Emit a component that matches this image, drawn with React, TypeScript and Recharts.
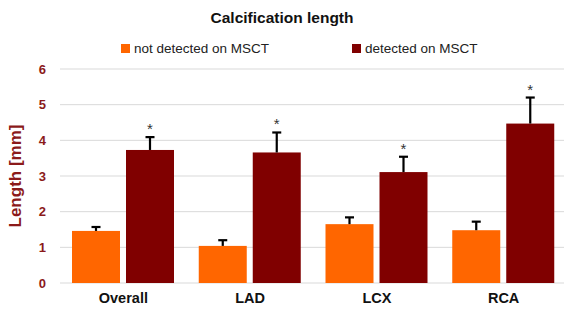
import { BarChart, Bar, XAxis, YAxis, CartesianGrid, Legend } from 'recharts';

const categories = ['Overall', 'LAD', 'LCX', 'RCA'];
const notDetected = [1.46, 1.04, 1.65, 1.48];
const notDetectedErr = [0.11, 0.16, 0.19, 0.24];
const detected = [3.73, 3.66, 3.11, 4.47];
const detectedErr = [0.36, 0.56, 0.43, 0.73];
const yTicks = [0, 1, 2, 3, 4, 5, 6];

const FONT = '"Liberation Sans", Arial, sans-serif';
const ORANGE = '#FF6600';
const DARK = '#800000';
const AXIS_RED = '#8B1A1A';

const data = categories.map((name, i) => ({
  name,
  notDetected: notDetected[i],
  notDetectedErr: notDetectedErr[i],
  detected: detected[i],
  detectedErr: detectedErr[i],
}));

// bar + one-sided (plus) error bar, optional significance star
function makeShape(valueKey: string, errKey: string, star: boolean) {
  return (props: any) => {
    const { x, y, width, height, fill, payload } = props;
    const v = payload[valueKey];
    const pxPerUnit = v ? height / v : 0;
    const top = y - payload[errKey] * pxPerUnit;
    const cx = x + width / 2;
    return (
      <g>
        <rect x={x} y={y} width={width} height={height} fill={fill} />
        <line x1={cx} y1={y} x2={cx} y2={top} stroke="#000" strokeWidth={2.2} />
        <line x1={cx - 4.5} y1={top} x2={cx + 4.5} y2={top} stroke="#000" strokeWidth={2.2} />
        {star && (
          <text x={cx} y={top - 3} textAnchor="middle" fontSize={15} fill="#333" fontFamily={FONT}>
            *
          </text>
        )}
      </g>
    );
  };
}

const legendItems = [
  { label: 'not detected on MSCT', color: ORANGE, left: 121 },
  { label: 'detected on MSCT', color: DARK, left: 352 },
];

function LegendContent() {
  return (
    <div style={{ position: 'relative', height: 16, width: 564 }}>
      {legendItems.map((it) => (
        <div
          key={it.label}
          style={{ position: 'absolute', left: it.left, top: 0, display: 'flex', alignItems: 'center', fontFamily: FONT, fontSize: 13.5, color: '#222', whiteSpace: 'nowrap' }}
        >
          <span style={{ display: 'inline-block', width: 9, height: 9, background: it.color, marginRight: 4 }} />
          {it.label}
        </div>
      ))}
    </div>
  );
}

function YLabel(props: any) {
  const { viewBox } = props;
  const x = viewBox.x + 15;
  const y = viewBox.y + viewBox.height / 2;
  return (
    <text
      x={x}
      y={y}
      transform={`rotate(-90, ${x}, ${y})`}
      textAnchor="middle"
      dominantBaseline="central"
      fontSize={17}
      fontWeight="bold"
      fill={AXIS_RED}
      fontFamily={FONT}
    >
      Length [mm]
    </text>
  );
}

export default function App() {
  return (
    <div style={{ position: 'absolute', left: 0, top: 0, width: 564, height: 310, overflow: 'hidden', background: '#fff', fontFamily: FONT }}>
      <div style={{ position: 'absolute', left: 0, top: 9, width: 564, textAlign: 'center', fontSize: 15.5, fontWeight: 'bold', color: '#111' }}>
        Calcification length
      </div>
      <BarChart
        width={567}
        height={310}
        data={data}
        margin={{ top: 69, right: 0, bottom: 0, left: 0 }}
        barCategoryGap={12}
        barGap={6}
      >
        <CartesianGrid vertical={false} stroke="#d9d9d9" />
        <XAxis
          dataKey="name"
          height={27}
          axisLine={false}
          tickLine={false}
          tickSize={0}
          tickMargin={10}
          tick={{ fill: '#111', fontSize: 14.5, fontWeight: 'bold', fontFamily: FONT }}
        />
        <YAxis
          width={60}
          domain={[0, 6]}
          ticks={yTicks}
          axisLine={false}
          tickLine={false}
          tickSize={0}
          tickMargin={14}
          tick={{ fill: AXIS_RED, fontSize: 13, fontWeight: 'bold', fontFamily: FONT }}
          label={<YLabel />}
        />
        <Legend
          layout="horizontal"
          verticalAlign="middle"
          align="center"
          wrapperStyle={{ top: 41, left: 0, width: 564 }}
          content={<LegendContent />}
        />
        <Bar
          dataKey="notDetected"
          name="not detected on MSCT"
          fill={ORANGE}
          isAnimationActive={false}
          shape={makeShape('notDetected', 'notDetectedErr', false)}
        />
        <Bar
          dataKey="detected"
          name="detected on MSCT"
          fill={DARK}
          isAnimationActive={false}
          shape={makeShape('detected', 'detectedErr', true)}
        />
      </BarChart>
    </div>
  );
}
